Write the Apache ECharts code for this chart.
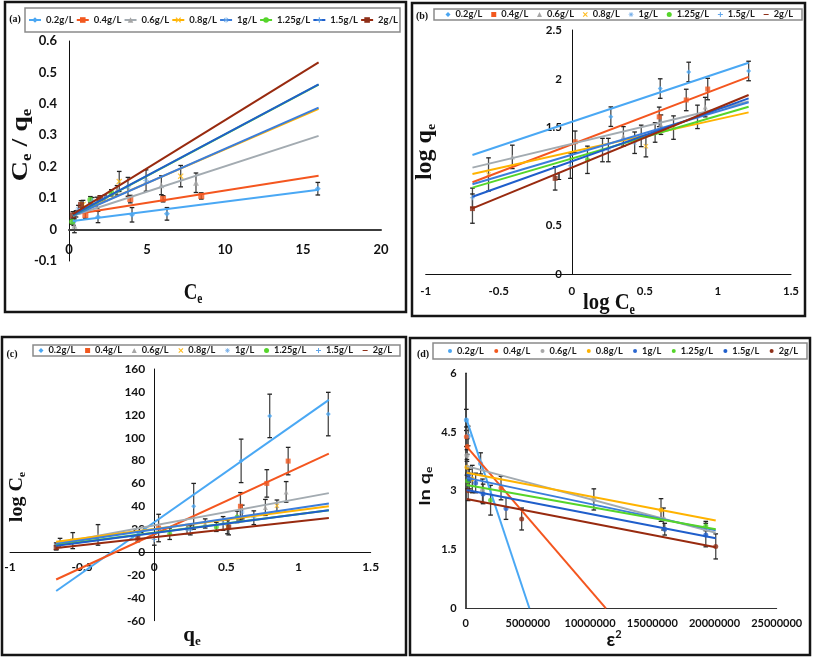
<!DOCTYPE html>
<html><head><meta charset="utf-8">
<script src="https://cdn.jsdelivr.net/npm/echarts/dist/echarts.min.js"></script>
<style>html,body{margin:0;padding:0;background:#fff}#c{width:813px;height:658px}</style>
</head><body><div id="c"></div>
<script>
// ---------- data ----------
const groups = ['0.2g/L','0.4g/L','0.6g/L','0.8g/L','1g/L','1.25g/L','1.5g/L','2g/L'];

// (a) Ce vs Ce/qe
const aXTicks = [0, 5, 10, 15, 20];
const aYTicks = [-0.1, 0, 0.1, 0.2, 0.3, 0.4, 0.5, 0.6];
const aLineStart = [[0.25,0.027],[0.25,0.048],[0.25,0.044],[0.25,0.046],[0.25,0.044],[0.25,0.045],[0.25,0.046],[0.25,0.049]];
const aLineEnd = [[16,0.127],[16,0.171],[16,0.298],[16,0.384],[16,0.388],[16,0.461],[16,0.462],[16,0.532]];
const aPoints = [
  [[0.3,0.025,0.012],[1.86,0.040,0.018],[4.04,0.047,0.023],[6.28,0.050,0.02],[15.95,0.13,0.02]],
  [[1.05,0.046,0.01],[3.93,0.097,0.012],[6.03,0.098,0.01],[8.48,0.107,0.01]],
  [[0.35,0.012,0.022],[3.08,0.125,0.015],[5.92,0.141,0.03],[8.14,0.149,0.031]],
  [[0.9,0.08,0.013],[3.22,0.153,0.032],[7.16,0.17,0.034]],
  [[0.6,0.065,0.012],[1.8,0.085,0.018],[3.78,0.136,0.03],[4.94,0.156,0.034]],
  [[0.2,0.025,0.008],[1.37,0.095,0.01],[2.71,0.117,0.01]],
  [[0.45,0.05,0.01],[1.5,0.09,0.012],[2.3,0.1,0.01]],
  [[0.25,0.045,0.012],[0.77,0.078,0.014],[2.0,0.1,0.008]]
];

// (b) log Ce vs log qe
const bXTicks = [-1, -0.5, 0, 0.5, 1, 1.5];
const bYTicks = [0, 0.5, 1, 1.5, 2, 2.5];
const bLineStart = [[-0.68,1.22],[-0.68,0.94],[-0.68,1.09],[-0.68,1.025],[-0.68,0.92],[-0.68,0.885],[-0.68,0.792],[-0.68,0.673]];
const bLineEnd = [[1.21,2.165],[1.21,2.02],[1.21,1.767],[1.21,1.656],[1.21,1.76],[1.21,1.714],[1.21,1.8],[1.21,1.834]];
const bPoints = [
  [[0.267,1.612,0.1],[0.605,1.90,0.1],[0.80,2.07,0.1],[1.21,2.08,0.1]],
  [[0.023,1.355,0.11],[0.598,1.61,0.1],[0.783,1.783,0.11],[0.93,1.895,0.11]],
  [[-0.407,1.2,0.12],[0.353,1.41,0.1],[0.61,1.53,0.1],[0.913,1.71,0.1]],
  [[-0.57,1.02,0.17],[0.507,1.31,0.11],[0.696,1.5,0.12]],
  [[0.21,1.27,0.12],[0.43,1.345,0.11],[0.86,1.61,0.12]],
  [[0.107,1.17,0.14],[0.57,1.45,0.1]],
  [[-0.68,0.78,0.1],[-0.01,1.11,0.13],[0.25,1.27,0.12],[0.475,1.415,0.11]],
  [[-0.68,0.67,0.15],[-0.114,0.98,0.12]]
];

// (c) qe vs log Ce
const cXTicks = [-1, -0.5, 0, 0.5, 1, 1.5];
const cYTicks = [-60, -40, -20, 0, 20, 40, 60, 80, 100, 120, 140, 160];
const cLineStart = [[-0.68,-34],[-0.68,-24],[-0.68,7.5],[-0.68,9],[-0.68,7],[-0.68,6],[-0.68,5.5],[-0.68,3.5]];
const cLineEnd = [[1.21,133],[1.21,86],[1.21,51.5],[1.21,40],[1.21,42.4],[1.21,36.5],[1.21,36.5],[1.21,29.8]];
const cPoints = [
  [[-0.68,5,3],[0.273,40,20],[0.602,79.7,19],[0.8,119,19],[1.206,120.6,19]],
  [[0.03,21,12],[0.597,40,12],[0.78,60,12],[0.928,79.5,12]],
  [[-0.39,15,9],[0.353,25,4],[0.77,39,7],[0.914,52.6,9]],
  [[-0.565,10,7],[0.507,22,6],[0.85,40.5,5]],
  [[0.227,20,4],[0.477,25,6],[0.61,35,6]],
  [[0.107,16,5],[0.43,22,4],[0.574,30.7,5]],
  [[-0.653,8,4],[0,11,5],[0.25,19,4],[0.69,30,6]],
  [[-0.68,4,2],[-0.114,12,3],[0.516,22,7]]
];

// (d) eps^2 vs ln qe
const dXTicks = [0, 5000000, 10000000, 15000000, 20000000, 25000000];
const dYTicks = [0, 1.5, 3, 4.5, 6];
const dLineStart = [[80000,4.81],[80000,4.13],[80000,3.63],[80000,3.46],[80000,3.33],[80000,3.15],[80000,3.02],[80000,2.79]];
const dLineEnd = [[5120000,0],[11270000,0],[20100000,1.93],[20100000,2.24],[20100000,1.99],[20100000,2.02],[20100000,1.79],[20100000,1.56]];
const dPoints = [
  [[50000,4.81,0.27],[200000,4.4,0.25],[1200000,3.7,0.27]],
  [[50000,4.38,0.25],[120000,4.13,0.2],[2840000,3.07,0.3]],
  [[100000,3.9,0.15],[1350000,3.0,0.3],[10300000,2.78,0.27],[15900000,2.28,0.28]],
  [[100000,3.6,0.2],[530000,3.3,0.35],[15700000,2.51,0.29]],
  [[250000,3.42,0.2],[800000,3.2,0.25],[3240000,2.55,0.28],[16000000,2.02,0.15]],
  [[150000,3.25,0.2],[2000000,2.76,0.38],[19300000,2.1,0.12]],
  [[300000,3.3,0.25],[1400000,2.92,0.25],[19300000,1.87,0.3]],
  [[200000,3.0,0.25],[4500000,2.28,0.28],[20100000,1.58,0.32]]
];

// ---------- styles ----------
const lineColors = ['#4aa8f4','#f4561f','#a3abb1','#ffb300','#3b7ddb','#55d52a','#1f5ecb','#982a0f'];
const markerColors = ['#4aa6f2','#f2581e','#a6a6a6','#ffbb1c','#6aa8e8','#55d52a','#5fa5ea','#8e2f18'];
const dMarkerColors = ['#4aa6f2','#f2581e','#a6a6a6','#ffb300','#2a66d0','#55d52a','#1f5ecb','#8e2f18'];
const PLUS = 'path://M4,0H6V4H10V6H6V10H4V6H0V4H4Z';
const CROSS = 'path://M1.5,0L5,3.5L8.5,0L10,1.5L6.5,5L10,8.5L8.5,10L5,6.5L1.5,10L0,8.5L3.5,5L0,1.5Z';
const STAR = 'path://M4.4,0H5.6V3.6L8.2,1L9,1.8L6.4,4.4H10V5.6H6.4L9,8.2L8.2,9L5.6,6.4V10H4.4V6.4L1.8,9L1,8.2L3.6,5.6H0V4.4H3.6L1,1.8L1.8,1L4.4,3.6Z';
const DASH = 'path://M0,4H10V6H0Z';
const shapes = ['diamond','rect','triangle',CROSS,STAR,'circle',PLUS,DASH];
const dots = groups.map(() => 'circle');
const LBL = 'Lato';

const panels = [
  {key:'a', xt:aXTicks, yt:aYTicks, ls:aLineStart, le:aLineEnd, pts:aPoints, sym:shapes, ss:6, mc:markerColors},
  {key:'b', xt:bXTicks, yt:bYTicks, ls:bLineStart, le:bLineEnd, pts:bPoints, sym:shapes, ss:5, mc:markerColors},
  {key:'c', xt:cXTicks, yt:cYTicks, ls:cLineStart, le:cLineEnd, pts:cPoints, sym:shapes, ss:5, mc:markerColors},
  {key:'d', xt:dXTicks, yt:dYTicks, ls:dLineStart, le:dLineEnd, pts:dPoints, sym:dots, ss:5, mc:dMarkerColors}
];

const grids = [
  {left:69, top:41, width:312, height:220},
  {left:425.7, top:30, width:365.3, height:244},
  {left:10, top:369, width:360.7, height:251.7},
  {left:465.7, top:373.3, width:311, height:235}
];
const labelFont = [13, 11.5, 12, 11];
const xMargin = [14, 11, 9, 10];
const yMargin = [12, 10, 9, 9];
const xLineW = [2, 1, 1, 1];
const xLineC = ['#3c3c3c', '#111', '#111', '#333'];
const yLineW = [1, 1, 1, 1.5];

function errRender(params, api) {
  const x = api.value(0);
  const p1 = api.coord([x, api.value(1)]);
  const p2 = api.coord([x, api.value(2)]);
  const w = 2.3;
  const st = {stroke:'#4a4a4a', lineWidth:1.3};
  const cap = {stroke:'#222', lineWidth:1.3};
  return {type:'group', children:[
    {type:'line', shape:{x1:p1[0],y1:p1[1],x2:p2[0],y2:p2[1]}, style:st},
    {type:'line', shape:{x1:p1[0]-w,y1:p1[1],x2:p1[0]+w,y2:p1[1]}, style:cap},
    {type:'line', shape:{x1:p2[0]-w,y1:p2[1],x2:p2[0]+w,y2:p2[1]}, style:cap}
  ]};
}

const xAxis = [], yAxis = [], series = [];
panels.forEach((p, gi) => {
  const xmin = p.xt[0], xmax = p.xt[p.xt.length-1];
  const ymin = p.yt[0], ymax = p.yt[p.yt.length-1];
  // axes cross at zero: shift each axis from the grid edge to the other axis's zero
  const xOff = -(0 - ymin) / (ymax - ymin) * grids[gi].height;
  const yOff = -(0 - xmin) / (xmax - xmin) * grids[gi].width;
  xAxis.push({type:'value', gridIndex:gi, min:xmin, max:xmax, interval:p.xt[1]-p.xt[0], offset:xOff,
    axisLine:{show:true, onZero:false, lineStyle:{color:xLineC[gi], width:xLineW[gi]}},
    axisTick:{show:false}, splitLine:{show:false},
    axisLabel:{margin:xMargin[gi], fontFamily:LBL, fontWeight:'bold', fontSize:labelFont[gi], color:'#111', formatter: v => String(v)}});
  yAxis.push({type:'value', gridIndex:gi, min:ymin, max:ymax, interval:p.yt[1]-p.yt[0], offset:yOff,
    axisLine:{show:true, onZero:false, lineStyle:{color:'#111', width:yLineW[gi]}},
    axisTick:{show:false}, splitLine:{show:false},
    axisLabel:{margin:yMargin[gi], fontFamily:LBL, fontWeight:'bold', fontSize:labelFont[gi], color:'#111'}});
  series.push({type:'custom', xAxisIndex:gi, yAxisIndex:gi, z:2, silent:true, renderItem:errRender,
    encode:{x:0, y:[1,2]}, data:p.pts.flat().map(([x,y,e]) => [x, y-e, y+e])});
  groups.forEach((g, i) => {
    series.push({type:'scatter', name:p.key+'|'+g+' pts', xAxisIndex:gi, yAxisIndex:gi,
      data:p.pts[i].map(q => [q[0], q[1]]), symbol:p.sym[i], symbolSize:p.ss,
      itemStyle:{color:p.mc[i]}, z:3, silent:true});
  });
  groups.forEach((g, i) => {
    series.push({type:'line', name:p.key+'|'+g, xAxisIndex:gi, yAxisIndex:gi,
      data:[p.ls[i], p.le[i]], symbol:p.sym[i], symbolSize:6, showSymbol:false,
      lineStyle:{color:lineColors[i], width:2}, itemStyle:{color:p.mc[i]}, z:4, silent:true});
  });
});

// legends: font size and gap fitted so each legend box matches the reference's box
const mctx = document.createElement('canvas').getContext('2d');
function makeLegend(key, left, top, padV, padL, padR, iconW, iconH, targetW, contentW, icons) {
  mctx.font = 'bold 10px ' + LBL;
  const w10 = mctx.measureText('0.2g/L').width;
  const fs = Math.round(10 * targetW / w10 * 4) / 4;
  mctx.font = 'bold ' + fs + 'px ' + LBL;
  const tsum = groups.reduce((s, g) => s + mctx.measureText(g).width, 0);
  const gap = Math.max(0, (contentW - tsum - groups.length * (iconW + 5)) / (groups.length - 1));
  return {orient:'horizontal', left:left, top:top, width:contentW + 40,
    padding:[padV, padR, padV, padL], itemGap:gap, itemWidth:iconW, itemHeight:iconH,
    borderColor:'#8a8a8a', borderWidth:1.5, selectedMode:false,
    formatter: n => n.slice(2),
    data: groups.map((g, i) => icons ? {name:key+'|'+g, icon:icons[i]} : key+'|'+g),
    textStyle:{fontFamily:LBL, fontWeight:'bold', fontSize:fs, color:'#1a1a1a'}};
}
const legends = [
  makeLegend('a', 25, 8, 7, 3, 2, 12, 7, 27.5, 362, null),
  makeLegend('b', 434, 9, 1, 11.5, 9, 5, 5, 27, 347.5, shapes),
  makeLegend('c', 33, 345, 1, 5.5, 8, 5, 5, 27, 353.5, shapes),
  makeLegend('d', 433, 343, 3.5, 15, 9, 4, 4, 27, 350, dots)
];

// ---------- text / frames ----------
function richStyles(fam, F, S) {
  return {
    m:{fontFamily:fam, fontWeight:'bold', fontSize:F, lineHeight:Math.round(F*1.15), verticalAlign:'middle', fill:'#111', color:'#111'},
    s:{fontFamily:fam, fontWeight:'bold', fontSize:S, lineHeight:S, verticalAlign:'bottom', fill:'#111', color:'#111'},
    t:{fontFamily:fam, fontWeight:'bold', fontSize:S, lineHeight:S, verticalAlign:'top', fill:'#111', color:'#111'}
  };
}
function title(x, y, rot, text, fam, F, S, sx, sy) {
  return {type:'text', x:x, y:y, rotation:rot, scaleX:sx, scaleY:sy, z:20, silent:true,
    style:{text:text, rich:richStyles(fam, F, S), align:'center', verticalAlign:'middle', fill:'#111'}};
}
const SERIF = 'Liberation Serif';
const frames = [[5,2,401,310],[412,3,393,313],[2,337,404,318],[410,338,400,317]].map(r => ({
  type:'rect', shape:{x:r[0], y:r[1], width:r[2], height:r[3]}, z:30, silent:true,
  style:{fill:'none', stroke:'#151515', lineWidth:2.5}}));
const tags = [['(a)',15,19],['(b)',422,16],['(c)',12,354],['(d)',423,354]].map(t => ({
  type:'text', x:t[1], y:t[2], z:20, silent:true,
  style:{text:t[0], font:'bold 10px Liberation Serif', fill:'#111', align:'center', verticalAlign:'middle'}}));
const titles = [
  title(21, 145, Math.PI/2, '{m|C}{s|e}{m| / q}{s|e}', SERIF, 28, 17, 1, 0.8),
  title(193, 293, 0, '{m|C}{s|e}', SERIF, 23, 14, 0.82, 1),
  title(425, 152, Math.PI/2, '{m|log q}{s|e}', SERIF, 24, 14, 1, 0.95),
  title(609, 303, 0, '{m|log C}{s|e}', SERIF, 24, 14, 0.86, 1),
  title(17, 497, Math.PI/2, '{m|log C}{s|e}', SERIF, 20, 12, 1, 0.95),
  title(192, 636, 0, '{m|q}{s|e}', SERIF, 21, 13, 1, 1),
  title(425, 486, Math.PI/2, '{m|ln q}{s|e}', 'Lato', 20, 12, 1, 0.75),
  title(614, 640, 0, '{m|ε}{t|2}', 'Lato', 19, 11, 1, 1)
];

const chart = echarts.init(document.getElementById('c'), null, {renderer:'canvas'});
chart.setOption({
  animation:false,
  backgroundColor:'#fff',
  grid:grids, xAxis:xAxis, yAxis:yAxis, series:series, legend:legends,
  graphic:[].concat(frames, tags, titles)
});
</script>
</body></html>
